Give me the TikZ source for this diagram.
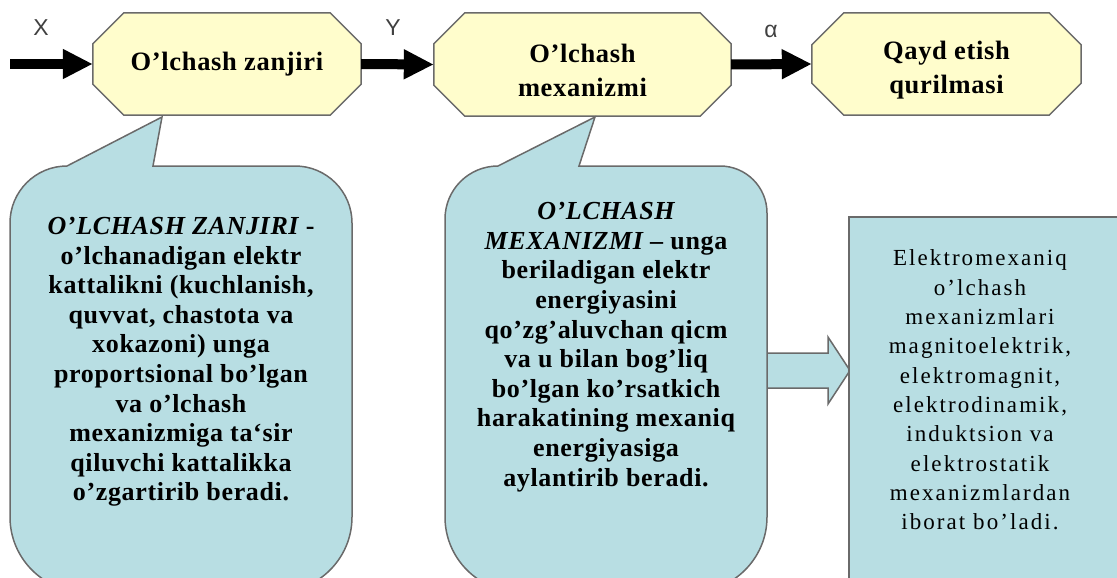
\documentclass[tikz,border=0pt]{standalone}
\usepackage{fontspec}
\setmainfont{Liberation Serif}
\newfontfamily\boxfont{Liberation Serif}[LetterSpace=2.5]
\newfontfamily\notefont{Liberation Serif}[LetterSpace=9]
\newfontfamily\labelfont{Liberation Sans}
\usetikzlibrary{arrows.meta,backgrounds}

\definecolor{boxyellow}{HTML}{FFFDCC}
\definecolor{calloutblue}{HTML}{B8DEE3}
\definecolor{edgegray}{HTML}{6A6A6A}

% octagonal frame drawn around a named node (chamfer #1 pt)
\newcommand\octframe[2][31]{%
  \draw[octline] ([xshift=#1pt]#2.north west) -- ([xshift=-#1pt]#2.north east)
    -- ([yshift=-#1pt]#2.north east) -- ([yshift=#1pt]#2.south east)
    -- ([xshift=-#1pt]#2.south east) -- ([xshift=#1pt]#2.south west)
    -- ([yshift=#1pt]#2.south west) -- ([yshift=-#1pt]#2.north west) -- cycle;}
% taller first line, so two-line labels sit a little lower
\newcommand\firststrut{\rule{0pt}{30pt}}

\begin{document}
\begin{tikzpicture}[x=1pt,y=-1pt,
  octline/.style={fill=boxyellow,draw=edgegray,line width=1.5pt,line join=miter},
  boxtext/.style={align=center,inner sep=0pt,
    font=\boxfont\bfseries\fontsize{26.5}{34}\selectfont},
  flow/.style={line width=10pt,-{Triangle[length=30pt,width=28pt]}},
  toplabel/.style={inner sep=0pt,text=black!75,font=\labelfont\fontsize{23}{26}\selectfont},
  callout/.style={fill=calloutblue,draw=edgegray,line width=1.5pt,line join=miter},
  calltext/.style={align=center,inner sep=0pt,
    font=\boxfont\bfseries\fontsize{26}{29.6}\selectfont},
  notetext/.style={align=center,inner sep=0pt,
    font=\notefont\fontsize{23}{29.3}\selectfont},
]
\path[use as bounding box] (0,0) rectangle (1117,578);
\clip (0,0) rectangle (1117,578);

% process blocks
\node[boxtext,minimum width=268pt,minimum height=102pt] (b1) at (227,64) {O’lchash zanjiri};
\node[boxtext,minimum width=297pt,minimum height=103pt] (b2) at (582.5,64.5) {\firststrut O’lchash\\mexanizmi};
\node[boxtext,minimum width=269pt,minimum height=102pt] (b3) at (946.5,64) {\firststrut Qayd etish\\qurilmasi};
\begin{scope}[on background layer]
  \octframe{b1}
  \octframe{b2}
  \octframe[32]{b3}
\end{scope}

% signal flow
\coordinate (in) at (10,64);
\draw[flow] (in) -- (b1.west);
\draw[flow] (b1.east) -- (b2.west);
\draw[flow] (b2.east) -- (b3.west);
\node[toplabel] (lx) at (41,28) {X};
\node[toplabel] (ly) at (393,28) {Y};
\node[toplabel] (la) at (771,31) {α};

% block arrow towards the list of mechanisms
\draw[callout] (758,353) -- (828,353) -- (828,337) -- (850,370.5)
  -- (828,404) -- (828,388) -- (758,388);

% callout for the measuring circuit
\draw[callout] (67,166) -- (162,117) -- (153,166) -- (295,166)
  .. controls (326.5,166) and (352,191.5) .. (352,223)
  -- (352,517)
  .. controls (352,558.4) and (318.4,592) .. (277,592)
  -- (85,592)
  .. controls (43.6,592) and (10,558.4) .. (10,517)
  -- (10,223)
  .. controls (10,191.5) and (35.5,166) .. (67,166) -- cycle;
\node[calltext] (c1) at (181,362) {%
  {\itshape O’LCHASH ZANJIRI} -\\
  o’lchanadigan elektr\\
  kattalikni (kuchlanish,\\
  quvvat, chastota va\\
  xokazoni) unga\\
  proportsional bo’lgan\\
  va o’lchash\\
  mexanizmiga ta‘sir\\
  qiluvchi kattalikka\\
  o’zgartirib beradi.};

% callout for the measuring mechanism
\draw[callout] (498,166) -- (595,117) -- (579,166) -- (720,166)
  .. controls (746,166) and (767,187) .. (767,213)
  -- (767,517)
  .. controls (767,558.4) and (733.4,592) .. (692,592)
  -- (520,592)
  .. controls (478.6,592) and (445,558.4) .. (445,517)
  -- (445,219)
  .. controls (445,189.7) and (468.7,166) .. (498,166) -- cycle;
\node[calltext] (c2) at (606,347) {%
  {\itshape O’LCHASH}\\
  {\itshape MEXANIZMI} – unga\\
  beriladigan elektr\\
  energiyasini\\
  qo’zg’aluvchan qicm\\
  va u bilan bog’liq\\
  bo’lgan ko’rsatkich\\
  harakatining mexaniq\\
  energiyasiga\\
  aylantirib beradi.};

% list of electromechanical mechanisms
\draw[callout] (849,217) rectangle (1130,600);
\node[notetext] (n1) at (980,390) {%
  Elektromexaniq\\
  o’lchash\\
  mexanizmlari\\
  magnitoelektrik,\\
  elektromagnit,\\
  elektrodinamik,\\
  induktsion va\\
  elektrostatik\\
  mexanizmlardan\\
  iborat bo’ladi.};
\end{tikzpicture}
\end{document}
